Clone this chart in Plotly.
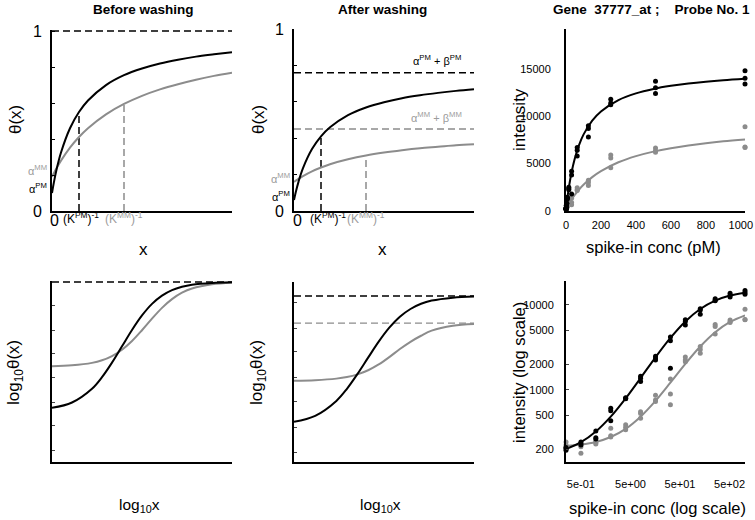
import plotly.graph_objects as go
import math

W, H = 755, 520
FONT = "Liberation Sans, Arial, sans-serif"
BLACK = "#000000"
GRAY = "#8c8c8c"
GRAY_TXT = "#9c9c9c"

# ---------------- DATA ----------------
# Panel A: before washing, theta(x) vs x (schematic, arbitrary x units)
bw_x = [0, 0.1, 0.25, 0.5, 1, 1.5, 2, 3, 4, 5, 6, 7, 8, 9, 10]
bw_pm = [0.10, 0.156, 0.229, 0.325, 0.46, 0.55, 0.614, 0.70, 0.755, 0.792, 0.82, 0.841, 0.858, 0.871, 0.883]
bw_mm = [0.19, 0.21, 0.238, 0.28, 0.352, 0.411, 0.46, 0.537, 0.595, 0.64, 0.676, 0.705, 0.73, 0.751, 0.769]
bw_sat = 1.0
bw_kinv_pm, bw_kinv_mm = 1.5, 4.0
bw_pm_at_k, bw_mm_at_k = 0.55, 0.595

# Panel B: after washing
aw_x = [0, 0.1, 0.25, 0.5, 1, 1.5, 2, 3, 4, 5, 6, 7, 8, 9, 10]
aw_pm = [0.06, 0.104, 0.16, 0.235, 0.34, 0.41, 0.46, 0.527, 0.569, 0.598, 0.62, 0.636, 0.649, 0.66, 0.669]
aw_mm = [0.16, 0.167, 0.177, 0.192, 0.218, 0.239, 0.257, 0.284, 0.305, 0.321, 0.334, 0.345, 0.353, 0.361, 0.367]
aw_sat_pm, aw_sat_mm = 0.76, 0.45
aw_kinv_pm, aw_kinv_mm = 1.5, 4.0
aw_pm_at_k, aw_mm_at_k = 0.41, 0.29

# Panel D: before washing, log10 theta vs log10 x
bl_u = [-2.25, -1.75, -1.25, -1, -0.75, -0.5, -0.25, 0, 0.25, 0.5, 0.75, 1, 1.25, 1.75, 2.25]
bl_pm = [-0.979, -0.937, -0.830, -0.740, -0.627, -0.500, -0.373, -0.260, -0.170, -0.106, -0.063, -0.037, -0.021, -0.007, -0.002]
bl_mm = [-0.655, -0.648, -0.629, -0.609, -0.576, -0.527, -0.459, -0.375, -0.285, -0.201, -0.133, -0.083, -0.050, -0.017, -0.005]
bl_sat = 0.0
bl_ticks = [-0.186, -0.379, -0.557, -0.742, -0.936, -1.114, -1.307]

# Panel E: after washing, log10 theta vs log10 x
bm_u = [-2.25, -1.75, -1.25, -1, -0.75, -0.5, -0.25, 0, 0.25, 0.5, 0.75, 1, 1.5, 2]
bm_pm = [-1.181, -1.130, -1.004, -0.902, -0.776, -0.639, -0.504, -0.386, -0.293, -0.228, -0.184, -0.157, -0.132, -0.123]
bm_mm = [-0.834, -0.829, -0.816, -0.803, -0.780, -0.745, -0.696, -0.634, -0.566, -0.505, -0.454, -0.411, -0.369, -0.354]
bm_sat_pm, bm_sat_mm = -0.119, -0.347
bm_ticks = [-0.17, -0.389, -0.59, -0.81, -1.01, -1.23, -1.44]

# Panels C/F: Gene 37777_at, probe 1 (spike-in concentration, pM)
conc = [0.25, 0.5, 1, 2, 4, 8, 16, 32, 64, 128, 256, 512, 1024]
pm_rep1 = [195, 245, 330, 610, 810, 1450, 2500, 4200, 6700, 9000, 11800, 13700, 14800]
pm_rep2 = [205, 235, 275, 570, 790, 1370, 2360, 3800, 6400, 8700, 11400, 13000, 14000]
pm_rep3 = [210, 225, 265, 435, 800, 1260, 2250, 1800, 5800, 7800, 11200, 12400, 13400]
mm_rep1 = [245, 225, 250, 355, 390, 555, 870, 1350, 2450, 3250, 5900, 6650, 8900]
mm_rep2 = [225, 215, 240, 290, 365, 530, 765, 900, 2250, 3000, 5600, 6350, 6750]
mm_rep3 = [215, 180, 232, 280, 340, 465, 730, 670, 2150, 2700, 4550, 6200, 6700]

fit_x_lin = [0, 2, 5, 10, 20, 30, 50, 75, 100, 150, 200, 300, 400, 500, 600, 700, 800, 900, 1024]
pm_fit_lin = [160, 486, 949, 1660, 2887, 3910, 5517, 6978, 8055, 9535, 10505, 11698, 12405, 12872, 13203, 13451, 13643, 13796, 13948]
mm_fit_lin = [210, 280, 384, 551, 867, 1162, 1694, 2270, 2766, 3576, 4210, 5139, 5786, 6263, 6629, 6918, 7153, 7348, 7547]
pm_fit_log = [202, 243, 325, 486, 798, 1384, 2424, 4094, 6394, 8967, 11258, 12917, 13948]
mm_fit_log = [219, 228, 245, 280, 349, 485, 743, 1218, 2027, 3245, 4774, 6312, 7547]

lin_xticks = [0, 200, 400, 600, 800, 1000]
lin_xtext = ["0", "200", "400", "600", "800", "1000"]
lin_yticks = [0, 5000, 10000, 15000]
lin_ytext = ["0", "5000", "10000", "15000"]
log_xticks = [0.5, 5, 50, 500]
log_xtext = ["5e-01", "5e+00", "5e+01", "5e+02"]
log_yticks = [200, 500, 1000, 2000, 5000, 10000]
log_ytext = ["200", "500", "1000", "2000", "5000", "10000"]

# ---------------- FIGURE ----------------
fig = go.Figure()
DASH = "7px,4px"


def line(xs, ys, color, ax, width=2, dash=None, shape="spline"):
    fig.add_trace(go.Scatter(
        x=xs, y=ys, mode="lines",
        line=dict(color=color, width=width, dash=dash, shape=shape),
        xaxis="x" + ax, yaxis="y" + ax, showlegend=False, hoverinfo="skip"))


def dots(xs, ys, color, ax):
    fig.add_trace(go.Scatter(
        x=xs, y=ys, mode="markers", marker=dict(color=color, size=5),
        cliponaxis=False, xaxis="x" + ax, yaxis="y" + ax,
        showlegend=False, hoverinfo="skip"))


# Panel A
line([bw_x[0], bw_x[-1]], [bw_sat, bw_sat], BLACK, "", 1.5, DASH, "linear")
line([bw_kinv_pm, bw_kinv_pm], [0, bw_pm_at_k], BLACK, "", 1.5, DASH, "linear")
line([bw_kinv_mm, bw_kinv_mm], [0, bw_mm_at_k], GRAY, "", 1.5, DASH, "linear")
line(bw_x, bw_mm, GRAY, "")
line(bw_x, bw_pm, BLACK, "")

# Panel B
line([aw_x[0], aw_x[-1]], [aw_sat_pm, aw_sat_pm], BLACK, "2", 1.5, DASH, "linear")
line([aw_x[0], aw_x[-1]], [aw_sat_mm, aw_sat_mm], GRAY, "2", 1.5, DASH, "linear")
line([aw_kinv_pm, aw_kinv_pm], [0, aw_pm_at_k], BLACK, "2", 1.5, DASH, "linear")
line([aw_kinv_mm, aw_kinv_mm], [0, aw_mm_at_k], GRAY, "2", 1.5, DASH, "linear")
line(aw_x, aw_mm, GRAY, "2")
line(aw_x, aw_pm, BLACK, "2")

# Panel C
line(fit_x_lin, mm_fit_lin, GRAY, "3")
line(fit_x_lin, pm_fit_lin, BLACK, "3")
for rep in (mm_rep1, mm_rep2, mm_rep3):
    dots(conc, rep, GRAY, "3")
for rep in (pm_rep1, pm_rep2, pm_rep3):
    dots(conc, rep, BLACK, "3")

# Panel D
line([bl_u[0], bl_u[-1]], [bl_sat, bl_sat], BLACK, "4", 1.5, DASH, "linear")
line(bl_u, bl_mm, GRAY, "4")
line(bl_u, bl_pm, BLACK, "4")

# Panel E
line([bm_u[0], bm_u[-1]], [bm_sat_pm, bm_sat_pm], BLACK, "5", 1.5, DASH, "linear")
line([bm_u[0], bm_u[-1]], [bm_sat_mm, bm_sat_mm], GRAY, "5", 1.2, DASH, "linear")
line(bm_u, bm_mm, GRAY, "5")
line(bm_u, bm_pm, BLACK, "5")

# Panel F
line(conc, mm_fit_log, GRAY, "6")
line(conc, pm_fit_log, BLACK, "6")
for rep in (mm_rep1, mm_rep2, mm_rep3):
    dots(conc, rep, GRAY, "6")
for rep in (pm_rep1, pm_rep2, pm_rep3):
    dots(conc, rep, BLACK, "6")


def xd(a, b):
    return [a / W, b / W]


def yd(top, bot):
    return [1 - bot / H, 1 - top / H]


base = dict(showline=True, linecolor=BLACK, linewidth=2, showgrid=False,
            zeroline=False, ticks="", fixedrange=True, automargin=False)
noticks_x = dict(base, showticklabels=False)

theta_y = dict(base, tickvals=[0, 0.2, 0.4, 0.6, 0.8, 1],
               ticktext=["0", "", "", "", "", "1"], ticks="inside",
               ticklen=3, tickwidth=1, tickcolor=BLACK,
               tickfont=dict(size=16, color=BLACK), ticklabelstandoff=5)

fig.update_layout(
    width=W, height=H, autosize=False,
    margin=dict(l=0, r=0, t=0, b=0, pad=0, autoexpand=False),
    paper_bgcolor="white", plot_bgcolor="white",
    font=dict(family=FONT, color=BLACK),
    xaxis=dict(noticks_x, domain=xd(52, 232), range=[0, 10], anchor="y"),
    yaxis=dict(theta_y, domain=yd(30, 211), range=[0, 1.006], anchor="x"),
    xaxis2=dict(noticks_x, domain=xd(294, 474), range=[0, 10], anchor="y2"),
    yaxis2=dict(theta_y, domain=yd(29, 211), range=[0, 1.0], anchor="x2"),
    xaxis3=dict(base, domain=xd(566, 745), range=[0, 1024], tickvals=lin_xticks,
                ticktext=lin_xtext, tickfont=dict(size=11),
                ticklabelstandoff=3, anchor="y3"),
    yaxis3=dict(base, domain=yd(29, 211), range=[0, 19200], tickvals=lin_yticks,
                ticktext=lin_ytext, tickfont=dict(size=11),
                ticklabelstandoff=11, anchor="x3"),
    xaxis4=dict(noticks_x, domain=xd(52, 232), range=[-2.25, 2.25], anchor="y4"),
    yaxis4=dict(base, domain=yd(281, 462), range=[-1.4, 0.008], tickvals=bl_ticks,
                ticks="inside", ticklen=3, tickwidth=1, showticklabels=False,
                anchor="x4"),
    xaxis5=dict(noticks_x, domain=xd(294, 474), range=[-2.25, 2.0], anchor="y5"),
    yaxis5=dict(base, domain=yd(282, 462), range=[-1.52, 0.0], tickvals=bm_ticks,
                ticks="inside", ticklen=3, tickwidth=1, showticklabels=False,
                anchor="x5"),
    xaxis6=dict(base, type="log", domain=xd(566, 745),
                range=[math.log10(conc[0]), math.log10(conc[-1])],
                tickvals=log_xticks, ticktext=log_xtext,
                tickfont=dict(size=11), ticklabelstandoff=11, anchor="y6"),
    yaxis6=dict(base, type="log", domain=yd(281, 462), range=[2.153, 4.282],
                tickvals=log_yticks, ticktext=log_ytext, ticks="inside",
                ticklen=3, tickwidth=1,
                tickfont=dict(size=11), ticklabelstandoff=8, anchor="x6"),
)

ann = []


def text(t, x, y, size, color=BLACK, xref="paper", yref="paper", xa="center",
         ya="middle", angle=0, xs=0, ys=0):
    if xref == "paper":
        x = x / W
    if yref == "paper":
        y = 1 - y / H
    ann.append(dict(text=t, x=x, y=y, xref=xref, yref=yref, xanchor=xa,
                    yanchor=ya, textangle=angle, showarrow=False,
                    xshift=xs, yshift=ys,
                    font=dict(family=FONT, size=size, color=color)))


# titles
text("<b>Before washing</b>", 143, 9, 13.5)
text("<b>After washing</b>", 383, 9, 13.5)
text("<b>Gene\u00a0\u00a037777_at\u00a0;\u00a0\u00a0\u00a0\u00a0Probe No. 1</b>", 752, 9, 13.5, xa="right")

# axis titles
text("θ(x)", 15, 120, 17, angle=-90)
text("θ(x)", 258, 120, 17, angle=-90)
text("x", 143, 249, 17)
text("x", 383, 249, 17)
text("intensity", 519, 120, 17, angle=-90)
text("spike-in conc (pM)", 653, 247, 16.5)
text("log<sub>10</sub>θ(x)", 15, 373, 17, angle=-90)
text("log<sub>10</sub>θ(x)", 258, 373, 17, angle=-90)
text("log<sub>10</sub>x", 139, 505, 15.5)
text("log<sub>10</sub>x", 380, 505, 15.5)
text("intensity (log scale)", 519, 373, 16.5, angle=-90)
text("spike-in conc (log scale)", 657, 508, 16.5)

# panel A labels
text("0", 0, 0, 16, xref="x", yref="y", xs=2, ys=-9)
text("(K<sup>PM</sup>)<sup>-1</sup>", bw_kinv_pm, 0, 12, xref="x", yref="y", xs=2, ys=-7)
text("(K<sup>MM</sup>)<sup>-1</sup>", bw_kinv_mm, 0, 12, GRAY_TXT, xref="x", yref="y", ys=-7)
text("α<sup>MM</sup>", 0, 0.20, 11, GRAY_TXT, xref="x", yref="y", xa="right", xs=-3, ys=5)
text("α<sup>PM</sup>", 0, 0.10, 11, xref="x", yref="y", xa="right", xs=-3, ys=5)

# panel B labels
text("0", 0, 0, 16, xref="x2", yref="y2", xs=3, ys=-9)
text("(K<sup>PM</sup>)<sup>-1</sup>", aw_kinv_pm, 0, 12, xref="x2", yref="y2", xs=7, ys=-7)
text("(K<sup>MM</sup>)<sup>-1</sup>", aw_kinv_mm, 0, 12, GRAY_TXT, xref="x2", yref="y2", ys=-7)
text("α<sup>MM</sup>", 0, 0.154, 11, GRAY_TXT, xref="x2", yref="y2", xa="right", xs=-2, ys=5)
text("α<sup>PM</sup>", 0, 0.055, 11, xref="x2", yref="y2", xa="right", xs=-2, ys=5)
text("α<sup>PM</sup> + β<sup>PM</sup>", 7.94, 0.813, 11, xref="x2", yref="y2", ys=3)
text("α<sup>MM</sup> + β<sup>MM</sup>", 7.94, 0.50, 11, GRAY_TXT, xref="x2", yref="y2", ys=3)

fig.update_layout(annotations=ann)
fig.write_html(
    "out.html",
    config={"displayModeBar": False, "staticPlot": True},
    post_script="document.body.style.margin='0px';document.body.style.overflow='hidden';",
)
